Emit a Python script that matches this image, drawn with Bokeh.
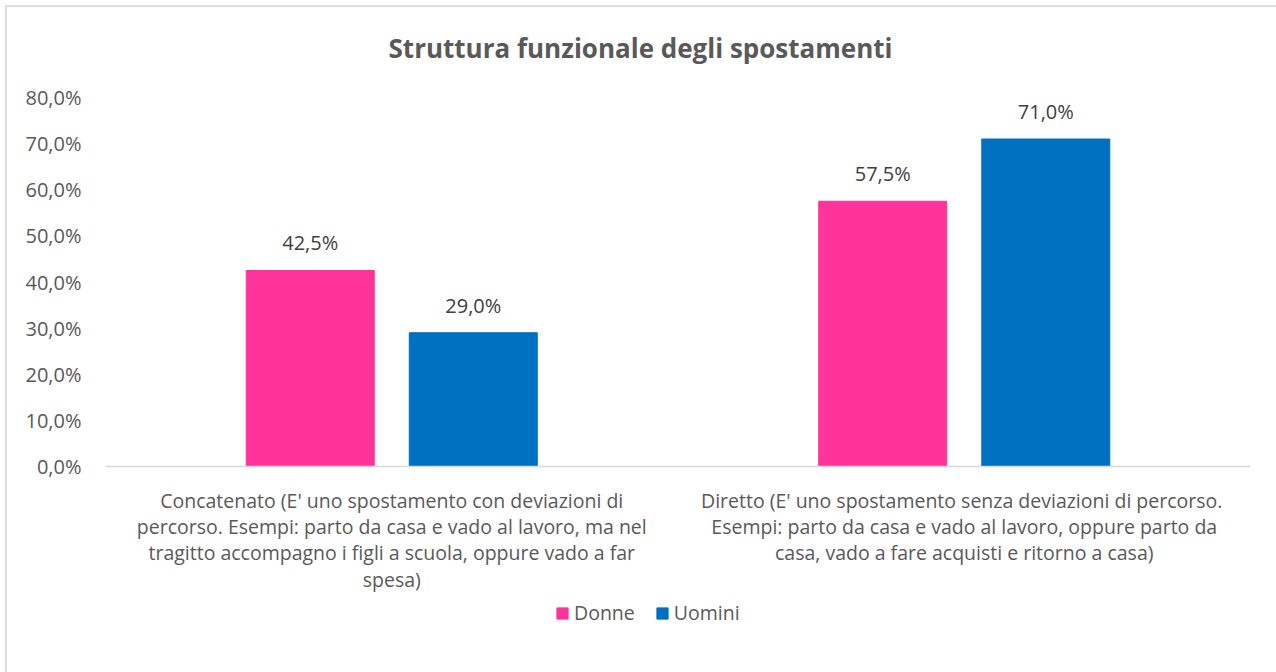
from bokeh.plotting import figure
from bokeh.models import (FactorRange, Range1d, ColumnDataSource, CustomJSTickFormatter, Legend,
                          LegendItem, Label, Span, InlineStyleSheet)
from bokeh.transform import dodge
from bokeh.core.properties import value
from bokeh.embed import file_html
from bokeh.resources import INLINE

title_text = "Struttura funzionale degli spostamenti"
categories = [
    "Concatenato (E' uno spostamento con deviazioni di\npercorso. Esempi: parto da casa e vado al lavoro, ma nel\ntragitto accompagno i figli a scuola, oppure vado a far\nspesa)",
    "Diretto  (E' uno spostamento senza deviazioni di percorso.\nEsempi: parto da casa e vado al lavoro, oppure parto da\ncasa, vado a fare acquisti e ritorno a casa)",
]
series_names = ["Donne", "Uomini"]
donne = [42.5, 57.5]
uomini = [29.0, 71.0]
y_ticks = [0, 10, 20, 30, 40, 50, 60, 70, 80]

colors = ["#FF3399", "#0070C0"]
FONT = "Open Sans"

def fmt(v):
    return f"{v:.1f}".replace(".", ",") + "%"

src = ColumnDataSource(dict(
    cat=categories,
    donne=donne,
    uomini=uomini,
    zero=[0, 0],
    donne_lbl=[fmt(v) for v in donne],
    uomini_lbl=[fmt(v) for v in uomini],
))

# layout: frame spans whole height; value axis 0 at y=466px, 80 at y=97px
W, H = 1276, 672
px_per_unit = (466 - 97) / 80
y_end = 80 + 97 / px_per_unit
y_start = -(H - 466) / px_per_unit

p = figure(x_range=FactorRange(factors=categories), y_range=Range1d(y_start, y_end),
           width=W, height=H, output_backend="svg", toolbar_location=None,
           x_axis_location=None,
           min_border_left=105, min_border_right=26, min_border_top=0, min_border_bottom=0)
p.stylesheets = [InlineStyleSheet(css="""
:host::after { content: ''; position: absolute; left: 5px; top: 5px;
  width: calc(100% - 5px); height: calc(100% - 5px); box-sizing: border-box;
  border-left: 2px solid #DDDDDD; border-top: 2px solid #DDDDDD; pointer-events: none; }
""")]
p.outline_line_color = None
p.xgrid.grid_line_color = None
p.ygrid.grid_line_color = None

off = 0.1424
bw = 0.2236
r1 = p.vbar(x=dodge("cat", -off, range=p.x_range), top="donne", width=bw, source=src,
            fill_color=colors[0], line_color=colors[0])
r2 = p.vbar(x=dodge("cat", off, range=p.x_range), top="uomini", width=bw, source=src,
            fill_color=colors[1], line_color=colors[1])

for col, lbl, o in (("donne", "donne_lbl", -off), ("uomini", "uomini_lbl", off)):
    p.text(x=dodge("cat", o, range=p.x_range), y=col, text=lbl, source=src,
           text_align="center", text_baseline="bottom", y_offset=-14,
           text_font=value(FONT), text_font_size="20px", text_color="#404040")

# category axis baseline and labels
p.add_layout(Span(location=0, dimension="width", line_color="#D9D9D9", line_width=1.5))
p.text(x="cat", y="zero", text="cat", source=src, text_align="center", text_baseline="top",
       y_offset=20, text_font=value(FONT), text_font_size="19.5px", text_color="#595959",
       text_line_height=0.98)

# value axis
p.yaxis.ticker = y_ticks
p.yaxis.formatter = CustomJSTickFormatter(code="return tick.toFixed(1).replace('.', ',') + '%';")
p.yaxis.axis_line_color = None
p.yaxis.major_tick_line_color = None
p.yaxis.minor_tick_line_color = None
p.yaxis.major_label_standoff = 18
p.yaxis.major_label_text_font = FONT
p.yaxis.major_label_text_font_size = "20px"
p.yaxis.major_label_text_color = "#595959"

# title
p.add_layout(Label(x=535, y=H - 47, x_units="screen", y_units="screen", text=title_text,
                   text_align="center", text_baseline="middle",
                   text_font=FONT, text_font_size="26px", text_font_style="bold",
                   text_color="#595959"))

legend = Legend(items=[LegendItem(label=series_names[0], renderers=[r1]),
                       LegendItem(label=series_names[1], renderers=[r2])],
                orientation="horizontal", location=(450, 46),
                glyph_width=14, glyph_height=14, label_standoff=5, spacing=20,
                padding=0, margin=0, border_line_color=None, background_fill_alpha=0,
                label_text_font=FONT, label_text_font_size="19.5px", label_text_color="#595959")
p.add_layout(legend, "center")

open("out.html", "w").write(file_html(p, INLINE))
